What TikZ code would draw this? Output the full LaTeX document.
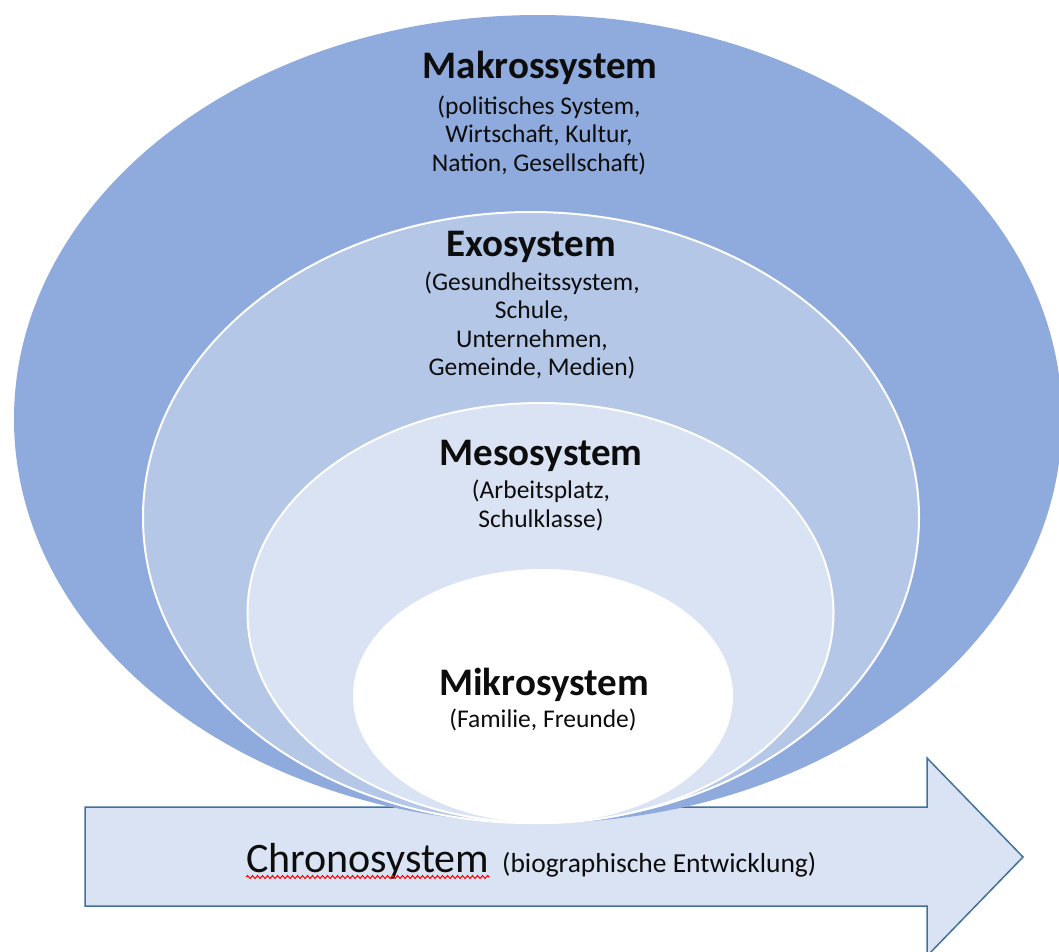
\documentclass[tikz,border=0pt]{standalone}
\usepackage{fontspec}
\setmainfont{Carlito}
\usetikzlibrary{decorations.pathmorphing}
\definecolor{makro}{HTML}{8FAADC}
\definecolor{exo}{HTML}{B4C7E7}
\definecolor{meso}{HTML}{DAE3F3}
\definecolor{arrowline}{HTML}{41719C}
\definecolor{txt}{HTML}{0D0D0D}
\begin{document}
\begin{tikzpicture}[x=1pt,y=-1pt,
  title/.style={anchor=base,inner sep=0pt,text=txt,font=\fontsize{39}{44}\selectfont\bfseries},
  sub/.style={anchor=base,inner sep=0pt,text=txt,font=\fontsize{25.5}{28}\selectfont},
  ring/.style={draw=white,line width=2pt},
]
\useasboundingbox (0,0) rectangle (1059,951);
\clip (0,0) rectangle (1059,951);
% time arrow
\draw[fill=meso, draw=arrowline, line width=1.5pt, line join=miter]
  (85,807) -- (927,807) -- (927,758) -- (1023,857) -- (927,956) -- (927,906) -- (85,906) -- cycle;
% nested systems
\fill[makro] (538,419) ellipse [x radius=524, y radius=404];
\draw[ring, fill=exo] (531,517.5) ellipse [x radius=388, y radius=305.5];
\draw[ring, fill=meso] (540.5,613) ellipse [x radius=293, y radius=210];
\fill[white] (543,696) ellipse [x radius=190, y radius=127];
% texts
\node[title] (makroT) at (540,78) {Makrossystem};
\node[sub] (makro1) at (539,114) {(politisches System,};
\node[sub] (makro2) at (539,142.5) {Wirtschaft, Kultur,};
\node[sub] (makro3) at (539,171) {Nation, Gesellschaft)};
\node[title] (exoT) at (531,256) {Exosystem};
\node[sub] (exo1) at (532,290) {(Gesundheitssystem,};
\node[sub] (exo2) at (532,318.5) {Schule,};
\node[sub] (exo3) at (532,347) {Unternehmen,};
\node[sub] (exo4) at (532,375.5) {Gemeinde, Medien)};
\node[title] (mesoT) at (541,465) {Mesosystem};
\node[sub] (meso1) at (541,498) {(Arbeitsplatz,};
\node[sub] (meso2) at (541,527) {Schulklasse)};
\node[title] (mikroT) at (544,695) {Mikrosystem};
\node[sub] (mikro1) at (543,727) {(Familie, Freunde)};
\node[anchor=base west, inner sep=0pt, text=txt, font=\fontsize{42}{48}\selectfont] (chronoT) at (246,872) {Chronosystem};
\node[anchor=base west, inner sep=0pt, text=txt, font=\fontsize{27.5}{32}\selectfont] (chronoS) at (502,872) {(biographische Entwicklung)};
\draw[red, line width=1pt, decorate, decoration={snake, amplitude=1.5pt, segment length=5pt}]
  ([yshift=-5pt]chronoT.base west) -- ([yshift=-5pt]chronoT.base east);
\end{tikzpicture}
\end{document}
